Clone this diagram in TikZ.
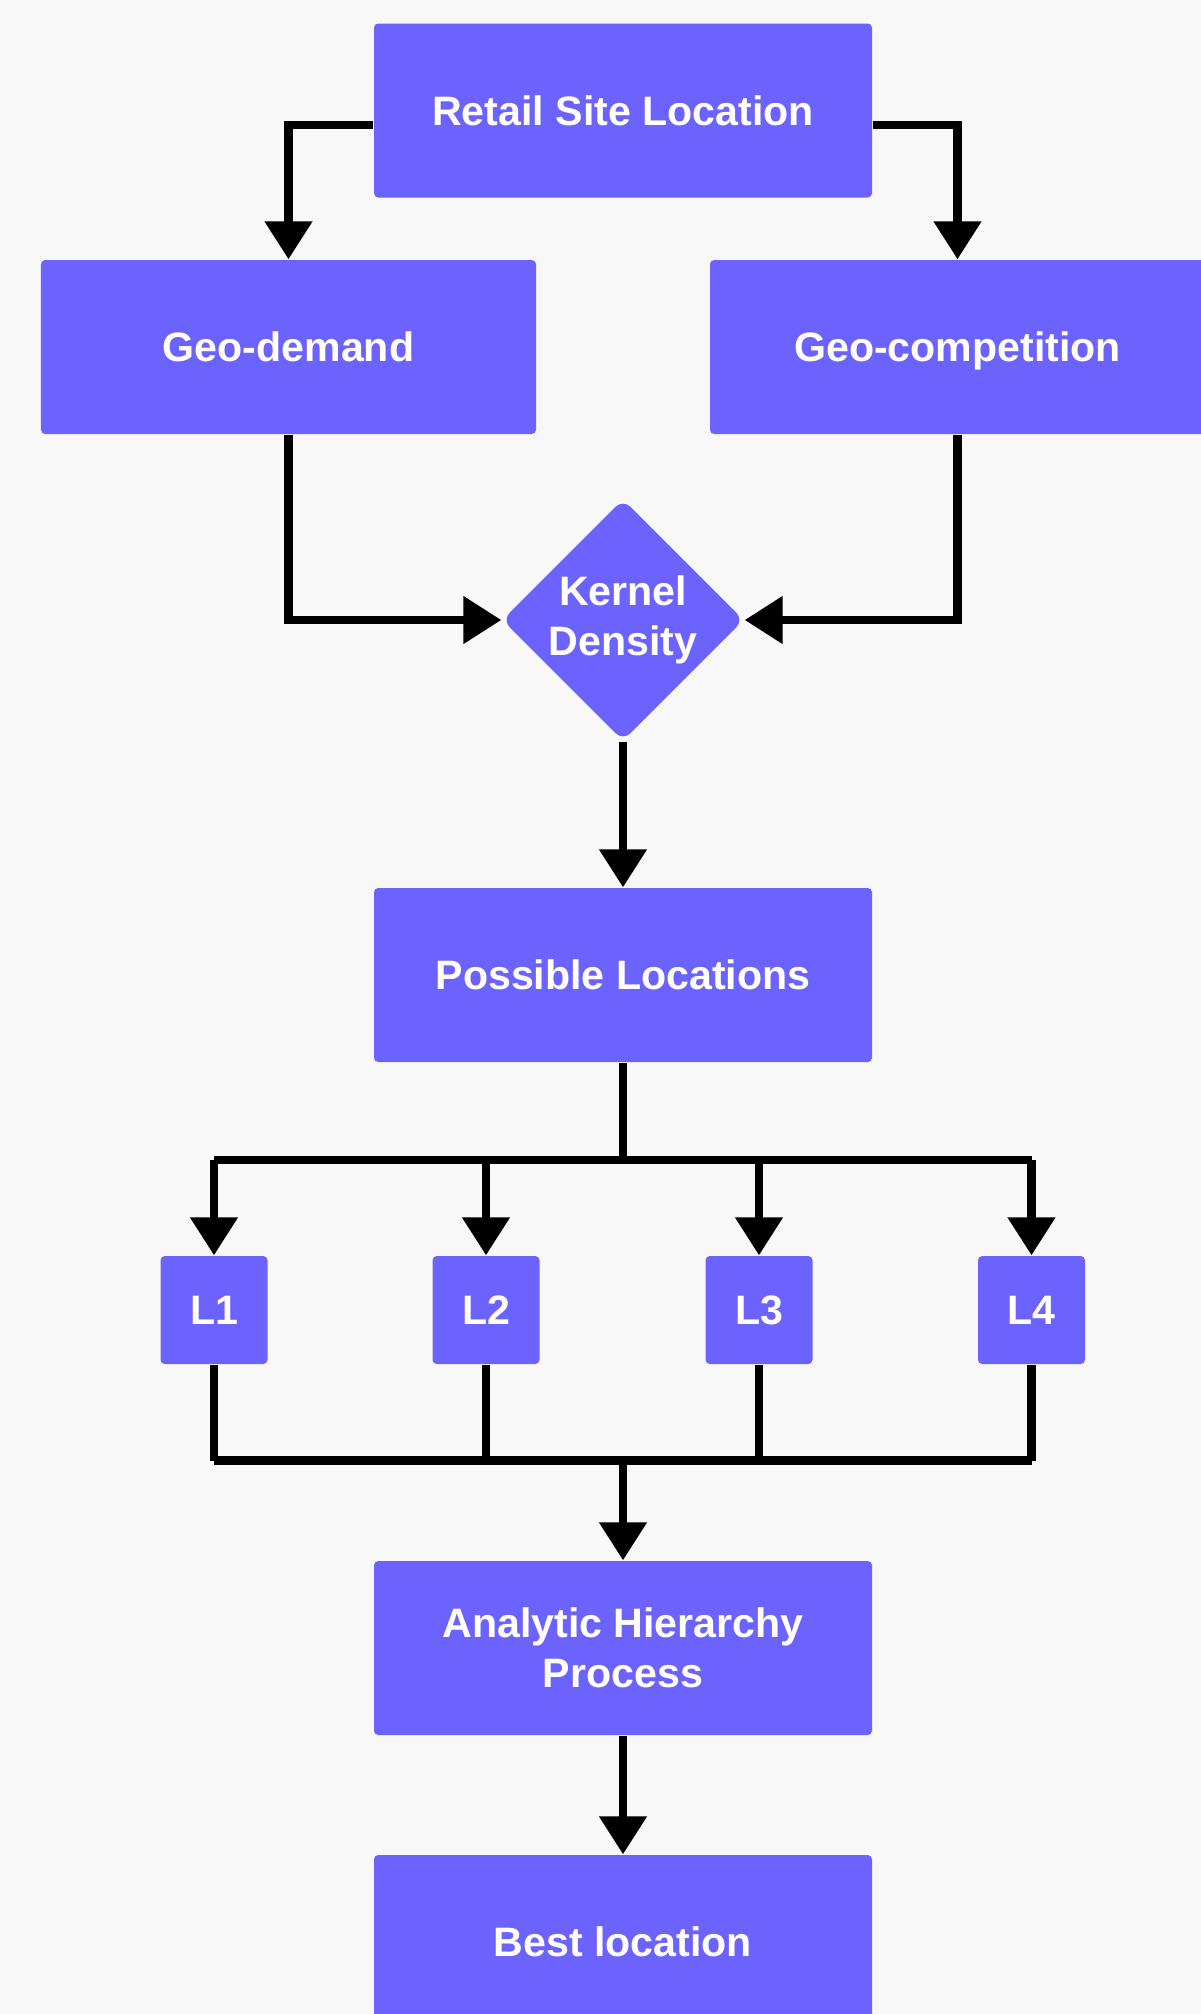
\documentclass[tikz,border=0pt]{standalone}
\usepackage{fontspec}
\setmainfont{Liberation Sans}
\usetikzlibrary{arrows.meta,shapes.geometric}
\definecolor{boxblue}{RGB}{108,99,255}
\definecolor{bgpaper}{RGB}{248,248,248}
\tikzset{
  box/.style={fill=boxblue,text=white,font=\bfseries\fontsize{11.7}{14.2}\selectfont,
    rounded corners=1.2pt,minimum width=4.98cm,minimum height=1.74cm,inner sep=0pt,align=center},
  lbox/.style={box,minimum width=1.07cm,minimum height=1.08cm},
  flow/.style={line width=2.3pt},
  arr/.style={flow,-{Triangle[width=0.46cm,length=0.38cm]}}
}
\begin{document}
\begin{tikzpicture}
\fill[bgpaper] (0,0) rectangle (12.01,-20.14);
\useasboundingbox (0,0) rectangle (12.01,-20.14);
% ---------- top ----------
\node[box] (retail) at (6.23,-1.105) {Retail Site Location};
\node[box,minimum width=4.95cm] (demand) at (2.885,-3.47) {Geo-demand};
\node[box,minimum width=4.95cm,text depth=0pt] (compet) at (9.575,-3.47) {Geo-competition};
\node[diamond,aspect=1,fill=boxblue,text=white,rounded corners=3pt,inner sep=0pt,
  minimum width=2.42cm,minimum height=2.42cm,align=center,
  font=\bfseries\fontsize{11.7}{14.2}\selectfont] (kernel) at (6.23,-6.20) {Kernel\\Density};
\draw[arr] ([yshift=-0.145cm]retail.west) -| (demand.north);
\draw[arr] ([yshift=-0.145cm]retail.east) -| (compet.north);
\draw[arr] (demand.south) |- (kernel.west);
\draw[arr] (compet.south) |- (kernel.east);
% ---------- candidates ----------
\node[box] (possible) at (6.23,-9.75) {Possible Locations};
\draw[arr] (kernel.south) -- (possible.north);
\node[lbox] (l1) at (2.14,-13.10) {L1};
\node[lbox] (l2) at (4.86,-13.10) {L2};
\node[lbox] (l3) at (7.59,-13.10) {L3};
\node[lbox] (l4) at (10.315,-13.10) {L4};
\coordinate (bustop) at (6.23,-11.60);
\coordinate (busbot) at (6.23,-14.605);
\draw[flow] (possible.south) -- (bustop);
\draw[flow] (l1 |- bustop) -- (l4 |- bustop);
\draw[flow] (l1 |- busbot) -- (l4 |- busbot);
\foreach \i in {1,...,4}{
  \draw[arr] (l\i |- bustop) -- (l\i.north);
  \draw[flow] (l\i.south) -- (l\i |- busbot);
}
% ---------- bottom ----------
\node[box] (ahp) at (6.23,-16.48) {Analytic Hierarchy\\Process};
\node[box] (best) at (6.23,-19.42) {Best location};
\draw[arr] (busbot) -- (ahp.north);
\draw[arr] (ahp.south) -- (best.north);
\end{tikzpicture}
\end{document}
